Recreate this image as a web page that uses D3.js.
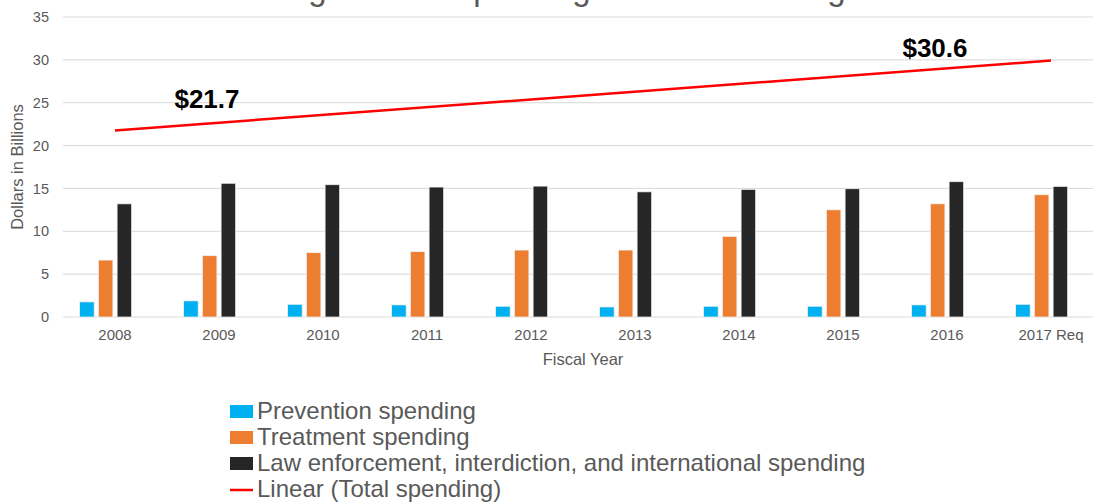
<!DOCTYPE html>
<html>
<head>
<meta charset="utf-8">
<script src="https://cdn.jsdelivr.net/npm/d3@7"></script>
<style>
  body { margin: 0; background: #fff; }
  text { font-family: "Liberation Sans", Arial, sans-serif; }
</style>
</head>
<body>
<div class="container"></div>
<script>
// data (billions of dollars)
var years = ["2008","2009","2010","2011","2012","2013","2014","2015","2016","2017 Req"];
var prevention = [1.76, 1.88, 1.48, 1.41, 1.25, 1.17, 1.25, 1.25, 1.41, 1.48];
var treatment  = [6.64, 7.15, 7.50, 7.62, 7.81, 7.81, 9.41, 12.50, 13.20, 14.26];
var lawEnf     = [13.20, 15.60, 15.43, 15.16, 15.27, 14.60, 14.88, 14.96, 15.78, 15.23];
var yTicks = [0, 5, 10, 15, 20, 25, 30, 35];
var seriesNames = ["Prevention spending", "Treatment spending",
                   "Law enforcement, interdiction, and international spending", "Total spending"];
var seriesColors = ["#00b0f0", "#ed7d31", "#262626", "none"];
var callouts = [{text: "$21.7", year: "2009", value: 24.4},
                {text: "$30.6", year: "2016", value: 30.3}];

var W = 1093, H = 504;

function makeStage(width, height) {
    var stage = d3.select(".container")
    .insert("svg")
    .attr("width", width)
    .attr("height", height);
    return stage;
}

var svg = makeStage(W, H);

var x = d3.scaleBand().domain(years).range([63, 1103]).paddingInner(0.32).paddingOuter(0.16);
var xs = d3.scaleBand().domain(d3.range(4)).range([0, x.bandwidth()]).paddingInner(0.225);
var y = d3.scaleLinear().domain([0, 35]).range([317, 17]);

// title (the picture only shows its lower edge)
svg.append("text")
    .attr("x", 255).attr("y", 0)
    .style("font-size", "33px").style("fill", "#595959")
    .text("Drug Control Spending Has Been Rising");

// gridlines
svg.append("g").selectAll("line").data(yTicks).enter().append("line")
    .attr("x1", 63).attr("x2", W)
    .attr("y1", function(d) { return y(d); }).attr("y2", function(d) { return y(d); })
    .style("stroke", "#d9d9d9").style("stroke-width", "1px");

// y axis
var yAxis = svg.append("g").attr("transform", "translate(49,0)")
    .call(d3.axisLeft(y).tickValues(yTicks).tickSize(0).tickPadding(0));
yAxis.select(".domain").remove();
yAxis.selectAll("text").style("font-size", "14.5px").style("fill", "#595959")
    .style("font-family", "Liberation Sans, Arial, sans-serif");

// x axis labels
var xAxis = svg.append("g").attr("transform", "translate(0,317)")
    .call(d3.axisBottom(x).tickSize(0).tickPadding(12));
xAxis.select(".domain").remove();
xAxis.selectAll("text").style("font-size", "15px").style("fill", "#595959")
    .style("font-family", "Liberation Sans, Arial, sans-serif");

// axis titles
svg.append("text")
    .attr("x", (63 + 1103) / 2).attr("y", 365)
    .attr("text-anchor", "middle")
    .style("font-size", "16.5px").style("fill", "#595959")
    .text("Fiscal Year");
svg.append("text")
    .attr("transform", "translate(23,167) rotate(-90)")
    .attr("text-anchor", "middle")
    .style("font-size", "16.5px").style("fill", "#595959")
    .text("Dollars in Billions");

// bars
var rows = years.map(function(yr, i) {
    return {year: yr, vals: [prevention[i], treatment[i], lawEnf[i]]};
});
var groups = svg.append("g").selectAll("g").data(rows).enter().append("g")
    .attr("transform", function(d) { return "translate(" + x(d.year) + ",0)"; });
groups.selectAll("rect").data(function(d) { return d.vals; }).enter().append("rect")
    .attr("x", function(d, i) { return xs(i); })
    .attr("y", function(d) { return y(d); })
    .attr("width", xs.bandwidth())
    .attr("height", function(d) { return y(0) - y(d); })
    .style("fill", function(d, i) { return seriesColors[i]; })
    .style("stroke", "#f2f2f2").style("stroke-width", "0.7px");

// linear trend of total spending (least squares, like the spreadsheet trendline)
var totals = years.map(function(yr, i) { return prevention[i] + treatment[i] + lawEnf[i]; });
var n = totals.length;
var mx = (n - 1) / 2, my = d3.mean(totals);
var sxy = 0, sxx = 0;
totals.forEach(function(v, i) { sxy += (i - mx) * (v - my); sxx += (i - mx) * (i - mx); });
var slope = sxy / sxx, icpt = my - slope * mx;
var trend = years.map(function(yr, i) { return {year: yr, v: icpt + slope * i}; });
var tx = function(d) { return x(d.year) + x.bandwidth() / 2; };
svg.append("line")
    .attr("x1", tx(trend[0])).attr("y1", y(trend[0].v))
    .attr("x2", tx(trend[n - 1])).attr("y2", y(trend[n - 1].v))
    .style("stroke", "#ff0000").style("stroke-width", "2.5px");

// callouts
svg.append("g").selectAll("text").data(callouts).enter().append("text")
    .attr("x", function(d) { return x(d.year) + x.bandwidth() / 2 - 12; })
    .attr("y", function(d) { return y(d.value); })
    .attr("text-anchor", "middle")
    .style("font-size", "26px").style("font-weight", "bold").style("fill", "#000")
    .text(function(d) { return d.text; });

// legend
var legendNames = [seriesNames[0], seriesNames[1], seriesNames[2], "Linear (Total spending)"];
var lg = svg.append("g").selectAll("g").data(legendNames).enter().append("g")
    .attr("transform", function(d, i) { return "translate(230," + (411 + i * 26) + ")"; });
lg.each(function(d, i) {
    var g = d3.select(this);
    if (i < 3) {
        g.append("rect").attr("x", 0).attr("y", -6).attr("width", 23).attr("height", 13)
            .style("fill", seriesColors[i]);
    } else {
        g.append("line").attr("x1", 0).attr("x2", 23).attr("y1", 1).attr("y2", 1)
            .style("stroke", "#ff0000").style("stroke-width", "2.5px");
    }
    g.append("text").attr("x", 27).attr("y", 8)
        .style("font-size", "24px").style("fill", "#595959")
        .text(d);
});
</script>
</body>
</html>
